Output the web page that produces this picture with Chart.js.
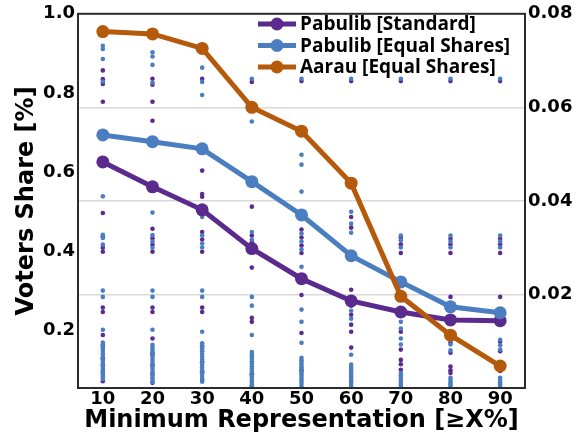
<!DOCTYPE html>
<html>
<head>
<meta charset="utf-8">
<script src="https://cdn.jsdelivr.net/npm/chart.js@4.4.1/dist/chart.umd.min.js"></script>
<style>
  html, body { margin: 0; padding: 0; background: #fff; }
  #wrap { width: 580px; height: 436px; }
</style>
</head>
<body>
<div id="wrap"><canvas id="shareChart" width="580" height="436"></canvas></div>
<script>
// Chart data
const categories = ['10', '20', '30', '40', '50', '60', '70', '80', '90'];

const pabulibStandard = [0.626, 0.563, 0.505, 0.407, 0.331, 0.275, 0.247, 0.227, 0.225];
const pabulibEqualShares = [0.694, 0.677, 0.659, 0.576, 0.492, 0.389, 0.323, 0.260, 0.245];
const aarauEqualShares = [0.0762, 0.0757, 0.0726, 0.0600, 0.0549, 0.0438, 0.0196, 0.0113, 0.0047];

const leftTicks = [0.2, 0.4, 0.6, 0.8, 1.0];
const rightTicks = [0.02, 0.04, 0.06, 0.08];

// individual instance values (one list per category)
const standardDots = [
    [0.857, 0.835, 0.823, 0.778, 0.497, 0.438, 0.409, 0.399, 0.258, 0.247, 0.189, 0.162, 0.130, 0.112, 0.094, 0.072],
    [0.836, 0.821, 0.778, 0.730, 0.457, 0.433, 0.417, 0.399, 0.258, 0.247, 0.180, 0.140, 0.112, 0.090, 0.068],
    [0.836, 0.604, 0.545, 0.538, 0.449, 0.430, 0.399, 0.258, 0.247, 0.160, 0.120, 0.095, 0.075],
    [0.828, 0.513, 0.440, 0.424, 0.359, 0.232, 0.222, 0.090, 0.060],
    [0.830, 0.455, 0.435, 0.415, 0.396, 0.290, 0.194, 0.100],
    [0.830, 0.487, 0.460, 0.303, 0.263, 0.240, 0.215, 0.197, 0.157],
    [0.830, 0.435, 0.418, 0.396, 0.197, 0.152, 0.126, 0.115, 0.101],
    [0.830, 0.432, 0.418, 0.396, 0.285, 0.170, 0.144, 0.109, 0.100, 0.093],
    [0.830, 0.432, 0.418, 0.396, 0.285, 0.172, 0.148, 0.112, 0.098]
];

const equalSharesDots = [
    [0.919, 0.911, 0.886, 0.829, 0.539, 0.442, 0.434, 0.417, 0.301, 0.285, 0.202, 0.170, 0.164, 0.158, 0.152, 0.146, 0.140, 0.133, 0.127, 0.121, 0.115, 0.108, 0.102, 0.096, 0.090, 0.084, 0.078],
    [0.903, 0.892, 0.871, 0.826, 0.498, 0.441, 0.425, 0.409, 0.301, 0.285, 0.202, 0.164, 0.158, 0.151, 0.145, 0.138, 0.131, 0.124, 0.117, 0.110, 0.103, 0.096, 0.089, 0.082, 0.076, 0.070],
    [0.864, 0.828, 0.795, 0.487, 0.440, 0.420, 0.410, 0.301, 0.285, 0.197, 0.168, 0.162, 0.155, 0.148, 0.141, 0.134, 0.127, 0.120, 0.113, 0.106, 0.099, 0.092, 0.085, 0.078, 0.071],
    [0.836, 0.728, 0.449, 0.430, 0.285, 0.263, 0.189, 0.146, 0.140, 0.134, 0.128, 0.122, 0.116, 0.110, 0.104, 0.098, 0.092, 0.086, 0.080, 0.074, 0.068, 0.062, 0.058],
    [0.836, 0.644, 0.619, 0.551, 0.445, 0.425, 0.405, 0.361, 0.253, 0.222, 0.169, 0.131, 0.125, 0.119, 0.113, 0.107, 0.101, 0.095, 0.089, 0.083, 0.077, 0.071, 0.065, 0.058],
    [0.836, 0.500, 0.470, 0.447, 0.273, 0.250, 0.230, 0.139, 0.114, 0.108, 0.102, 0.096, 0.090, 0.084, 0.078, 0.072, 0.066, 0.060],
    [0.836, 0.440, 0.428, 0.410, 0.222, 0.205, 0.180, 0.165, 0.093, 0.087, 0.081, 0.075, 0.069, 0.063, 0.058],
    [0.836, 0.440, 0.425, 0.410, 0.177, 0.165, 0.150, 0.081, 0.075, 0.069, 0.063, 0.058],
    [0.836, 0.440, 0.425, 0.410, 0.177, 0.163, 0.152, 0.081, 0.075, 0.069, 0.063, 0.058]
];

const seriesNames = ['Pabulib [Standard]', 'Pabulib [Equal Shares]', 'Aarau [Equal Shares]'];
const PURPLE = '#5b2a8e';
const BLUE = '#4a7ec0';
const ORANGE = '#b5590b';

function toDots(lists) {
    const points = [];
    lists.forEach((values, i) => {
        values.forEach(v => points.push({ x: categories[i], y: v }));
    });
    return points;
}

// Legend drawn inside the plot area (top right)
const insideLegend = {
    id: 'insideLegend',
    afterDatasetsDraw(chart) {
        const ctx = chart.ctx;
        const colors = [PURPLE, BLUE, ORANGE];
        ctx.save();
        ctx.font = 'bold 19px "Open Sans", sans-serif';
        ctx.textBaseline = 'middle';
        ctx.textAlign = 'left';
        seriesNames.forEach((name, i) => {
            const y = 24 + i * 21.5;
            ctx.strokeStyle = colors[i];
            ctx.lineWidth = 5;
            ctx.beginPath();
            ctx.moveTo(258, y);
            ctx.lineTo(296, y);
            ctx.stroke();
            ctx.fillStyle = colors[i];
            ctx.beginPath();
            ctx.arc(277, y, 6.5, 0, Math.PI * 2);
            ctx.fill();
            ctx.fillStyle = '#000';
            ctx.fillText(name, 300, y + 1);
        });
        ctx.restore();
    }
};

// Frame around the plot area
const plotFrame = {
    id: 'plotFrame',
    afterDraw(chart) {
        const { left, top, right, bottom } = chart.chartArea;
        const ctx = chart.ctx;
        ctx.save();
        ctx.strokeStyle = '#2b2b2b';
        ctx.lineWidth = 2;
        ctx.strokeRect(left, top, right - left, bottom - top);
        ctx.restore();
    }
};

const tickFont = { family: 'DejaVu Sans', size: 18, weight: 'bold' };
const titleFont = { family: 'DejaVu Sans', size: 24, weight: 'bold' };

new Chart(document.getElementById('shareChart'), {
    type: 'line',
    data: {
        labels: categories,
        datasets: [
            {
                label: seriesNames[2],
                data: aarauEqualShares,
                yAxisID: 'y2',
                borderColor: ORANGE,
                backgroundColor: ORANGE,
                borderWidth: 5,
                pointRadius: 6.5,
                pointBorderWidth: 0,
                pointBackgroundColor: ORANGE,
                order: 0
            },
            {
                label: seriesNames[1],
                data: pabulibEqualShares,
                yAxisID: 'y',
                borderColor: BLUE,
                backgroundColor: BLUE,
                borderWidth: 5,
                pointRadius: 6.5,
                pointBorderWidth: 0,
                pointBackgroundColor: BLUE,
                order: 1
            },
            {
                label: seriesNames[0],
                data: pabulibStandard,
                yAxisID: 'y',
                borderColor: PURPLE,
                backgroundColor: PURPLE,
                borderWidth: 5,
                pointRadius: 6.5,
                pointBorderWidth: 0,
                pointBackgroundColor: PURPLE,
                order: 2
            },
            {
                label: 'equal shares instances',
                data: toDots(equalSharesDots),
                yAxisID: 'y',
                showLine: false,
                pointRadius: 2.3,
                pointBorderWidth: 0,
                pointBackgroundColor: BLUE,
                order: 3
            },
            {
                label: 'standard instances',
                data: toDots(standardDots),
                yAxisID: 'y',
                showLine: false,
                pointRadius: 2.3,
                pointBorderWidth: 0,
                pointBackgroundColor: PURPLE,
                order: 4
            }
        ]
    },
    options: {
        responsive: false,
        animation: false,
        layout: { padding: { top: 13, left: 0, right: 0, bottom: 0 } },
        plugins: {
            legend: { display: false },
            tooltip: { enabled: false }
        },
        scales: {
            x: {
                type: 'category',
                offset: true,
                grid: { display: false, drawTicks: false },
                border: { display: true, color: '#2b2b2b', width: 2 },
                ticks: { font: tickFont, color: '#000', padding: 1, maxRotation: 0 },
                title: {
                    display: true,
                    text: 'Minimum Representation [≥X%]',
                    font: titleFont,
                    color: '#000',
                    padding: { top: 0, bottom: 1 }
                },
                afterFit(scale) { scale.height = 48; }
            },
            y: {
                position: 'left',
                min: 0.055,
                max: 1.0,
                grid: { display: false, drawTicks: false },
                border: { display: true, color: '#2b2b2b', width: 2 },
                ticks: {
                    font: tickFont,
                    color: '#000',
                    padding: 3,
                    callback: v => v.toFixed(1)
                },
                afterBuildTicks(scale) {
                    scale.ticks = leftTicks.map(v => ({ value: v }));
                },
                title: {
                    display: true,
                    text: 'Voters Share [%]',
                    font: titleFont,
                    color: '#000',
                    padding: { top: 12, bottom: 0 }
                },
                afterFit(scale) { scale.width = 78; }
            },
            y2: {
                position: 'right',
                min: 0,
                max: 0.08,
                grid: { color: '#d9d9d9', lineWidth: 1.5, drawTicks: false },
                border: { display: true, color: '#2b2b2b', width: 2 },
                ticks: {
                    font: tickFont,
                    color: '#000',
                    padding: 3,
                    callback: v => v.toFixed(2)
                },
                afterBuildTicks(scale) {
                    scale.ticks = rightTicks.map(v => ({ value: v }));
                },
                afterFit(scale) { scale.width = 55; }
            }
        }
    },
    plugins: [plotFrame, insideLegend]
});
</script>
</body>
</html>
